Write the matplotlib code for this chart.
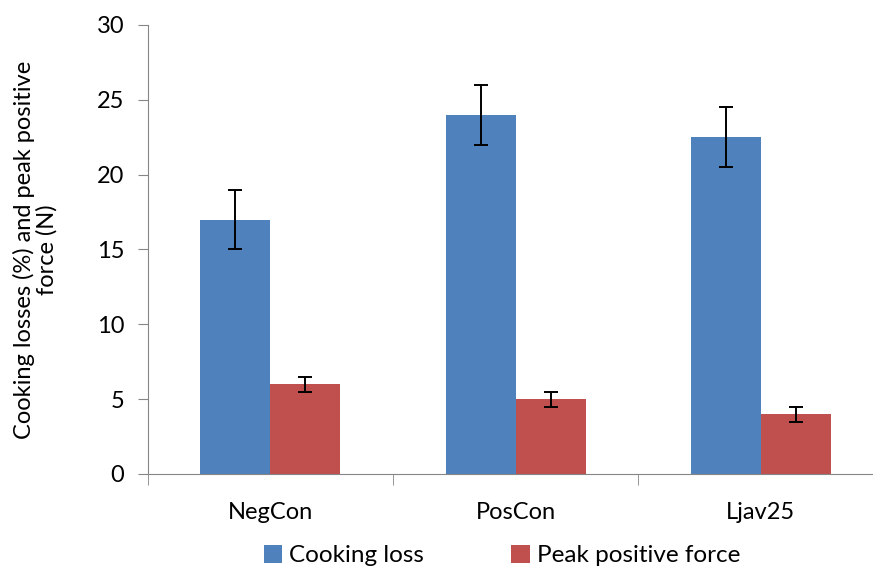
import numpy as np
import matplotlib.pyplot as plt

plt.rcParams['font.family'] = ['Lato', 'DejaVu Sans']

# data
groups = ['NegCon', 'PosCon', 'Ljav25']
cooking_loss = [17, 24, 22.5]
cooking_err = [2, 2, 2]
peak_force = [6, 5, 4]
peak_err = [0.5, 0.5, 0.5]

blue = '#4F81BD'
red = '#C0504D'
grey = '#868686'

fig = plt.figure(figsize=(8.73, 5.68), dpi=100)
ax = fig.add_axes([0.1695, 0.1655, 0.8420, 0.7905])

x = np.arange(len(groups))
w = 0.2857
ekw = dict(ecolor='black', elinewidth=1.4, capsize=5, capthick=1.4)
ax.bar(x - w / 2, cooking_loss, w, color=blue, yerr=cooking_err,
       error_kw=ekw, label='Cooking loss')
ax.bar(x + w / 2, peak_force, w, color=red, yerr=peak_err,
       error_kw=ekw, label='Peak positive force')

ax.set_xlim(-0.5, len(groups) - 0.5)
ax.set_ylim(0, 30)
ax.set_yticks(range(0, 31, 5))
ax.set_xticks(x)
ax.set_xticklabels(groups)
ax.set_xticks(np.arange(len(groups) + 1) - 0.5, minor=True)

for s in ['top', 'right']:
    ax.spines[s].set_visible(False)
for s in ['left', 'bottom']:
    ax.spines[s].set_color(grey)
ax.tick_params(axis='y', color=grey, length=7, labelsize=17, pad=10)
ax.tick_params(axis='x', which='major', length=0, labelsize=17, pad=20)
ax.tick_params(axis='x', which='minor', color=grey, length=8)

ax.set_ylabel('Cooking losses (%) and peak positive\nforce (N)', fontsize=17,
              labelpad=28, linespacing=1.1, multialignment='center')

fig.legend(loc='center', bbox_to_anchor=(0.575, 0.022), ncol=2, frameon=False,
           fontsize=17.5, handlelength=0.75, handleheight=0.75, handletextpad=0.3,
           columnspacing=3.6)

fig.savefig('out.png', dpi=100)
